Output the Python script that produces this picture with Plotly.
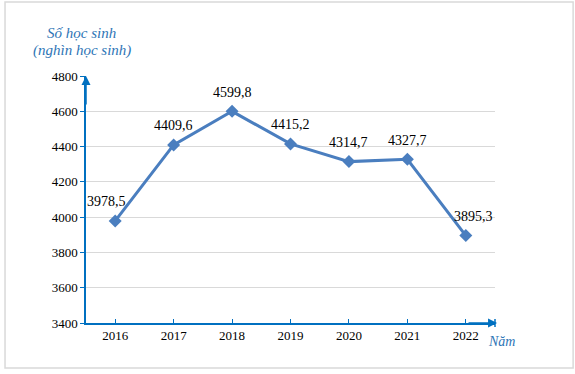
import plotly.graph_objects as go

years = ["2016", "2017", "2018", "2019", "2020", "2021", "2022"]
students = [3978.5, 4409.6, 4599.8, 4415.2, 4314.7, 4327.7, 3895.3]
labels = ["3978,5", "4409,6", "4599,8", "4415,2", "4314,7", "4327,7", "3895,3"]
label_xshift = [-9, 0, 0, 0, 0, 0, 8]
y_ticks = [3400, 3600, 3800, 4000, 4200, 4400, 4600, 4800]

BLUE = "#0070c0"
LINE = "#4a7ebf"
TITLE_BLUE = "#2e75b6"
FONT = "Liberation Serif, Times New Roman, serif"

fig = go.Figure()
fig.add_trace(go.Scatter(
    x=years, y=students, mode="lines+markers",
    line=dict(color=LINE, width=3),
    marker=dict(symbol="diamond", size=10, color=LINE),
    cliponaxis=False, hoverinfo="skip",
))

annotations = []
for i, (v, lab, dx) in enumerate(zip(students, labels, label_xshift)):
    annotations.append(dict(x=i, y=v, xref="x", yref="y", text=lab, showarrow=False,
                            xshift=dx, yshift=19,
                            font=dict(family=FONT, size=14, color="#000000")))

# axis arrows
annotations.append(dict(x=1.005, y=0, xref="paper", yref="paper", ax=-30, ay=0,
                        text="", showarrow=True, arrowhead=2, arrowsize=1.2,
                        arrowwidth=1.5, arrowcolor=BLUE))
annotations.append(dict(x=0, y=1.0, xref="paper", yref="paper", ax=0, ay=30,
                        text="", showarrow=True, arrowhead=2, arrowsize=1.2,
                        arrowwidth=1.5, arrowcolor=BLUE))
# titles
annotations.append(dict(x=-0.01, y=1.174, xref="paper", yref="paper", text="Số học sinh",
                        showarrow=False, xanchor="center", yanchor="middle",
                        font=dict(family=FONT, size=15, color=TITLE_BLUE, style="italic")))
annotations.append(dict(x=-0.01, y=1.105, xref="paper", yref="paper", text="(nghìn học sinh)",
                        showarrow=False, xanchor="center", yanchor="middle",
                        font=dict(family=FONT, size=15, color=TITLE_BLUE, style="italic")))
annotations.append(dict(x=1.0, y=-0.073, xref="paper", yref="paper", text="Năm",
                        showarrow=False, xanchor="left", yanchor="middle", xshift=-9,
                        font=dict(family=FONT, size=14, color=TITLE_BLUE, style="italic")))

shapes = [
    dict(type="rect", xref="paper", yref="paper", x0=-0.198, x1=1.191, y0=-0.182, y1=1.2996,
         line=dict(color="#d9d9d9", width=1.5), fillcolor="rgba(0,0,0,0)", layer="below"),
    dict(type="line", xref="paper", yref="paper", x0=1.0, x1=1.0, y0=-0.016, y1=0.016,
         line=dict(color=BLUE, width=1.5)),
]

fig.update_layout(
    width=575, height=374,
    margin=dict(l=86, r=80, t=76, b=51),
    paper_bgcolor="white", plot_bgcolor="white",
    showlegend=False,
    annotations=annotations, shapes=shapes,
    font=dict(family=FONT, size=13, color="#000000"),
    xaxis=dict(type="category", range=[-0.5, 6.5], showgrid=False, zeroline=False,
               showline=True, linecolor=BLUE, linewidth=1.5,
               ticks="inside", ticklen=4, tickcolor=BLUE, tickwidth=1.2,
               tickfont=dict(family=FONT, size=13, color="#000000")),
    yaxis=dict(range=[3400, 4800], tickvals=y_ticks, showgrid=True, gridcolor="#d9d9d9",
               gridwidth=1, zeroline=False, showline=True, linecolor=BLUE, linewidth=1.5,
               ticks="outside", ticklen=4, tickcolor=BLUE, tickwidth=1.2,
               tickfont=dict(family=FONT, size=13, color="#000000")),
)

fig.write_html("out.html", config={"displayModeBar": False},
               post_script="document.body.style.margin='0px';")
